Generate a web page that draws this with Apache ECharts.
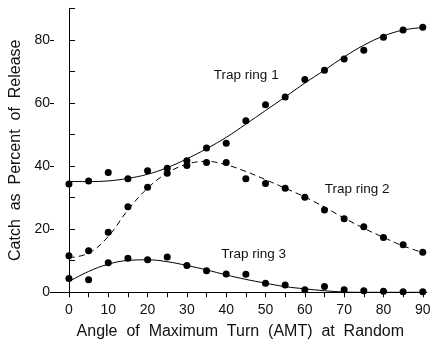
<!DOCTYPE html>
<html>
<head>
<meta charset="utf-8">
<script src="https://cdn.jsdelivr.net/npm/echarts@6/dist/echarts.min.js"></script>
<style>
  html, body { margin: 0; padding: 0; background: #fff; }
  #chart { width: 436px; height: 346px; }
</style>
</head>
<body>
<div id="chart"></div>
<script>
// Angle of maximum turn (degrees)
const angles = [0, 5, 10, 15, 20, 25, 30, 35, 40, 45, 50, 55, 60, 65, 70, 75, 80, 85, 90];

// Observed catch, percent of release
const ring1 = [34.3, 35.3, 38.0, 36.0, 38.5, 39.3, 41.7, 45.7, 47.2, 54.4, 59.4, 61.9, 67.4, 70.4, 73.9, 76.7, 80.8, 83.1, 84.0];
const ring2 = [11.6, 13.2, 19.0, 27.1, 33.3, 37.7, 40.2, 41.1, 41.1, 36.0, 34.5, 33.0, 30.1, 26.1, 23.3, 20.8, 17.4, 15.1, 12.7];
const ring3 = [4.4, 4.0, 9.4, 10.8, 10.3, 11.2, 8.5, 6.8, 5.8, 5.7, 2.9, 2.3, 0.8, 1.8, 0.8, 0.5, 0.3, 0.2, 0.2];

// Fitted curves at the same angles
const fit1 = [35.1, 35.1, 35.3, 36.1, 37.4, 39.5, 42.3, 45.5, 49.1, 53.3, 57.6, 61.9, 66.3, 70.4, 74.6, 78.3, 81.2, 83.1, 83.9];
const fit2 = [11.0, 12.4, 17.7, 26.1, 33.0, 37.8, 40.6, 41.5, 40.4, 38.3, 35.7, 33.0, 30.2, 27.0, 23.5, 20.3, 17.4, 14.7, 12.6];
const fit3 = [3.4, 6.6, 8.9, 10.1, 10.3, 9.7, 8.5, 7.1, 5.5, 4.1, 2.9, 1.8, 1.1, 0.5, 0.1, 0, 0, 0, 0];

// Tick values
const xTicks = [0, 5, 10, 15, 20, 25, 30, 35, 40, 45, 50, 55, 60, 65, 70, 75, 80, 85, 90];
const xLabels = [0, 10, 20, 30, 40, 50, 60, 70, 80, 90];
const yMinorTicks = [0, 10, 20, 30, 40, 50, 60, 70, 80, 90];
const yLabels = [0, 20, 40, 60, 80];

// Curve names and where they are written
const curveNames = ['Trap ring 1', 'Trap ring 2', 'Trap ring 3'];
const namePositions = [[45.1, 68.7], [73.3, 32.8], [47.0, 12.2]];

const FONT = '"Liberation Sans", Arial, sans-serif';
const INK = '#111';

const pairs = (xs, ys) => xs.map((x, i) => [x, ys[i]]);

const dots = (ys) => ({
  type: 'scatter',
  data: pairs(angles, ys),
  symbol: 'circle',
  symbolSize: 7,
  itemStyle: { color: '#000', opacity: 1 },
  z: 3,
  silent: true
});

const curve = (ys, dashed) => ({
  type: 'line',
  data: pairs(angles, ys),
  smooth: 0.4,
  showSymbol: false,
  symbol: 'none',
  lineStyle: { color: '#000', width: 1, opacity: 1, type: dashed ? [6, 4] : 'solid' },
  z: 2,
  silent: true
});

const chart = echarts.init(document.getElementById('chart'), null, { renderer: 'canvas' });

chart.setOption({
  backgroundColor: '#fff',
  animation: false,
  grid: { left: 53.3, right: 9.3, top: 8.3, bottom: 53.7, containLabel: false },
  xAxis: {
    type: 'value',
    min: -3.8,
    max: 91,
    name: 'Angle  of  Maximum  Turn  (AMT)  at  Random',
    nameLocation: 'middle',
    nameGap: 31,
    nameTextStyle: { fontFamily: FONT, fontSize: 16, color: INK },
    axisLine: { show: true, lineStyle: { color: '#000', width: 1 } },
    axisTick: { show: true, inside: false, length: 5, customValues: xTicks, lineStyle: { color: '#000' } },
    axisLabel: { show: true, customValues: xLabels, margin: 11, fontFamily: FONT, fontSize: 14, color: INK },
    splitLine: { show: false }
  },
  yAxis: [
    {
      type: 'value',
      min: 0,
      max: 90,
      name: 'Catch  as  Percent  of  Release',
      nameLocation: 'middle',
      nameGap: 30,
      nameRotate: 90,
      nameTextStyle: { fontFamily: FONT, fontSize: 16, color: INK },
      axisLine: { show: true, lineStyle: { color: '#000', width: 1 } },
      axisTick: { show: true, inside: true, length: 6, customValues: yMinorTicks, lineStyle: { color: '#000' } },
      axisLabel: { show: false },
      splitLine: { show: false }
    },
    {
      type: 'value',
      min: 0,
      max: 90,
      position: 'left',
      offset: 0,
      axisLine: { show: false },
      axisTick: { show: true, inside: false, length: 4, customValues: yLabels, lineStyle: { color: '#000' } },
      axisLabel: { show: true, customValues: yLabels, margin: 4, fontFamily: FONT, fontSize: 14, color: INK },
      splitLine: { show: false }
    }
  ],
  series: [
    curve(fit1, false),
    curve(fit2, true),
    curve(fit3, false),
    dots(ring1),
    dots(ring2),
    dots(ring3),
    {
      type: 'scatter',
      data: namePositions.map((p, i) => ({ value: p, name: curveNames[i] })),
      symbolSize: 0,
      silent: true,
      itemStyle: { opacity: 1 },
      label: {
        show: true,
        position: 'inside',
        formatter: (p) => p.name,
        fontFamily: FONT,
        fontSize: 13.5,
        color: INK,
        opacity: 1
      }
    }
  ]
});
</script>
</body>
</html>
